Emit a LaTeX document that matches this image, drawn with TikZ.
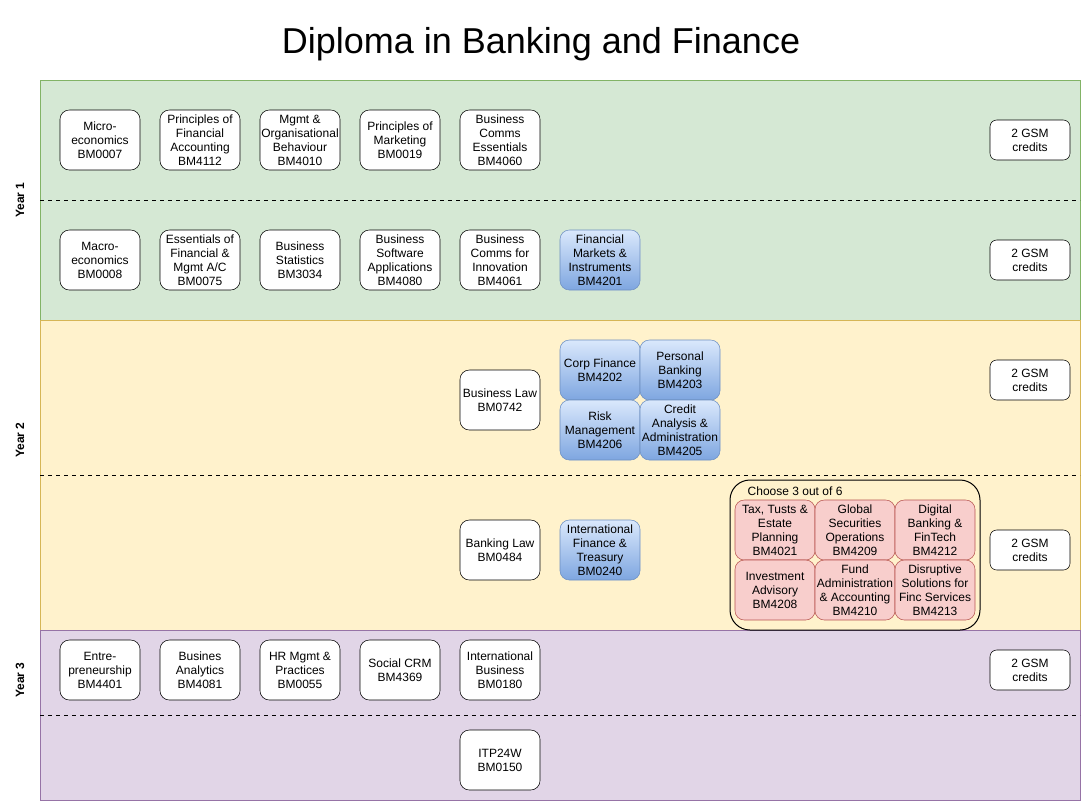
\documentclass[tikz,border=0pt]{standalone}
\usepackage{fontspec}
\setmainfont{Liberation Sans}
\definecolor{g1}{HTML}{D5E8D4}\definecolor{g2}{HTML}{82B366}
\definecolor{y1}{HTML}{FFF2CC}\definecolor{y2}{HTML}{D6B656}
\definecolor{p1}{HTML}{E1D5E7}\definecolor{p2}{HTML}{9673A6}
\definecolor{b1}{HTML}{DAE8FC}\definecolor{b2}{HTML}{7EA6E0}\definecolor{b3}{HTML}{6C8EBF}
\definecolor{r1}{HTML}{F8CECC}\definecolor{r2}{HTML}{B85450}
\begin{document}
\begin{tikzpicture}[x=0.75pt,y=-0.75pt,
  course/.style={draw=black,fill=white,rounded corners=7pt,minimum width=60pt,minimum height=45pt,inner sep=0pt,align=center,font=\fontsize{9}{10.5}\selectfont},
  credit/.style={course,minimum height=30pt,rounded corners=5pt},
  blue/.style={course,draw=b3,top color=b1,bottom color=b2},
  red/.style={course,draw=r2,fill=r1},
  lane/.style={line width=0.75pt},
  sep/.style={dashed,line width=0.6pt},
  yearlbl/.style={rotate=90,font=\fontsize{9}{10}\selectfont\bfseries}]
\useasboundingbox (0,0) rectangle (1082,801);
\fill[white] (0,0) rectangle (1082,801);
\node[font=\fontsize{27}{31}\selectfont] (title) at (541,44) {Diploma in Banking and Finance};
% lanes
\filldraw[lane,fill=g1,draw=g2] (40,80) rectangle (1080,320);
\filldraw[lane,fill=y1,draw=y2] (40,320) rectangle (1080,630);
\filldraw[lane,fill=p1,draw=p2] (40,630) rectangle (1080,800);
\draw[lane,draw=g2] (40,80) -- (40,320);
\draw[sep] (40,200) -- (1080,200);
\draw[sep] (40,475) -- (1080,475);
\draw[sep] (40,715) -- (1080,715);
\node[yearlbl] (y1l) at (20,200) {Year 1};
\node[yearlbl] (y2l) at (20,440) {Year 2};
\node[yearlbl] (y3l) at (20,680) {Year 3};
% Year 1 row 1
\node[course] (a1) at (100,140) {Micro-\\economics\\BM0007};
\node[course] (a2) at (200,140) {Principles of\\Financial\\Accounting\\BM4112};
\node[course] (a3) at (300,140) {Mgmt \&\\Organisational\\Behaviour\\BM4010};
\node[course] (a4) at (400,140) {Principles of\\Marketing\\BM0019};
\node[course] (a5) at (500,140) {Business\\Comms\\Essentials\\BM4060};
\node[credit] (c1) at (1030,140) {2 GSM\\credits};
% Year 1 row 2
\node[course] (b1n) at (100,260) {Macro-\\economics\\BM0008};
\node[course] (b2n) at (200,260) {Essentials of\\Financial \&\\Mgmt A/C\\BM0075};
\node[course] (b3n) at (300,260) {Business\\Statistics\\BM3034};
\node[course] (b4n) at (400,260) {Business\\Software\\Applications\\BM4080};
\node[course] (b5n) at (500,260) {Business\\Comms for\\Innovation\\BM4061};
\node[blue] (b6n) at (600,260) {Financial\\Markets \&\\Instruments\\BM4201};
\node[credit] (c2) at (1030,260) {2 GSM\\credits};
% Year 2 row 1
\node[course] (d1) at (500,400) {Business Law\\BM0742};
\node[blue] (d2) at (600,370) {Corp Finance\\BM4202};
\node[blue] (d3) at (680,370) {Personal\\Banking\\BM4203};
\node[blue] (d4) at (600,430) {Risk\\Management\\BM4206};
\node[blue] (d5) at (680,430) {Credit\\Analysis \&\\Administration\\BM4205};
\node[credit] (c3) at (1030,380) {2 GSM\\credits};
% Year 2 row 2
\node[course] (e1) at (500,550) {Banking Law\\BM0484};
\node[blue] (e2) at (600,550) {International\\Finance \&\\Treasury\\BM0240};
\draw[rounded corners=15pt,line width=0.75pt] (730,480) rectangle (980,630);
\node[anchor=west,font=\fontsize{9}{10.5}\selectfont] (grp) at (743,491) {Choose 3 out of 6};
\node[red] (f1) at (775,530) {Tax, Tusts \&\\Estate\\Planning\\BM4021};
\node[red] (f2) at (855,530) {Global\\Securities\\Operations\\BM4209};
\node[red] (f3) at (935,530) {Digital\\Banking \&\\FinTech\\BM4212};
\node[red] (f4) at (775,590) {Investment\\Advisory\\BM4208};
\node[red] (f5) at (855,590) {Fund\\Administration\\\& Accounting\\BM4210};
\node[red] (f6) at (935,590) {Disruptive\\Solutions for\\Finc Services\\BM4213};
\node[credit] (c4) at (1030,550) {2 GSM\\credits};
% Year 3
\node[course] (g1n) at (100,670) {Entre-\\preneurship\\BM4401};
\node[course] (g2n) at (200,670) {Busines\\Analytics\\BM4081};
\node[course] (g3n) at (300,670) {HR Mgmt \&\\Practices\\BM0055};
\node[course] (g4n) at (400,670) {Social CRM\\BM4369};
\node[course] (g5n) at (500,670) {International\\Business\\BM0180};
\node[credit] (c5) at (1030,670) {2 GSM\\credits};
\node[course] (h1) at (500,760) {ITP24W\\BM0150};
\end{tikzpicture}
\end{document}
